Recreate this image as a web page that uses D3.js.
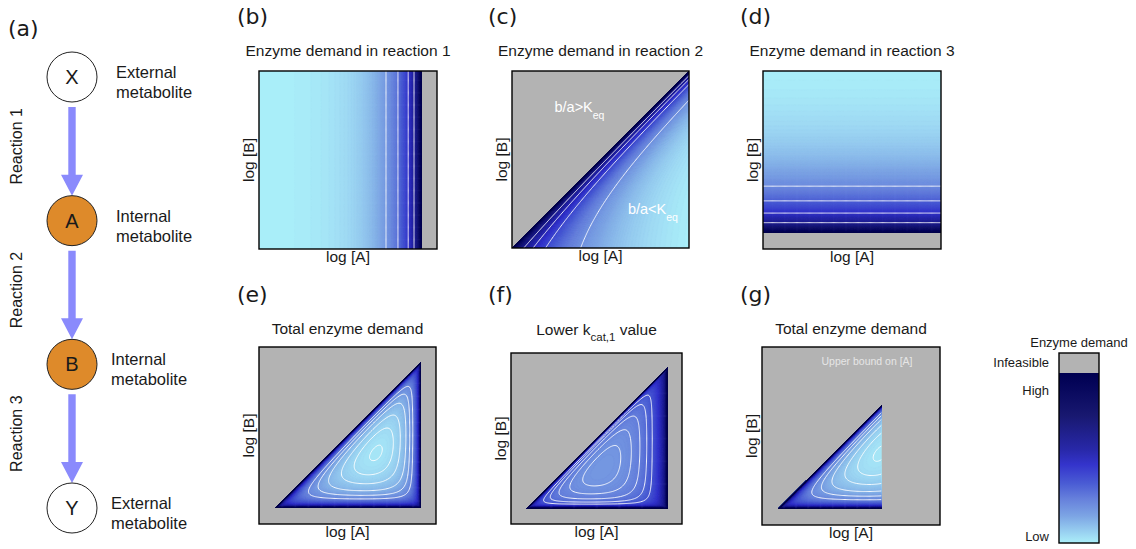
<!DOCTYPE html>
<html>
<head>
<meta charset="utf-8">
<script src="https://cdnjs.cloudflare.com/ajax/libs/d3/7.8.5/d3.min.js"></script>
<style>
  body { margin: 0; background: #fff; }
  text { font-family: "Liberation Sans", Arial, sans-serif; fill: #1a1a1a; }
</style>
</head>
<body>
<script>
// ---------- data ----------
var nodes = ['X', 'A', 'B', 'Y'];
var nodeKinds = ['External', 'Internal', 'Internal', 'External'];
var reactions = ['Reaction 1', 'Reaction 2', 'Reaction 3'];

// feasible limits on the normalised log concentrations
var aMax = 0.915;    // reaction 1 at equilibrium
var bMin = 0.092;    // reaction 3 at equilibrium
var aUpper = 0.67;   // extra bound on [A] in panel g

// toy kinetic model: thermodynamic slope, saturation K and L for reactions 1..3
var thermoSlope = [6, 6, 6];
var satK = [0, 1.83, 0.8];
var satL = [0, 3, 3];
var weightR1 = [1.6, 8];   // normal kcat1, lowered kcat1

// white contour levels (demand relative to panel minimum)
var levelsB = [1.42, 1.8, 2.7, 4.3];
var levelsC = [1.6, 2.75, 4.1, 7];
var levelsD = [1.55, 1.98, 2.86, 5.1];
var levelsE = [1.006, 1.06, 1.15, 1.3, 1.5, 1.8];
var levelsF = [1.04, 1.12, 1.25, 1.45, 1.75];

var panelIds = ['b', 'c', 'd', 'e', 'f', 'g'];
var panelTitles = ['Enzyme demand in reaction 1', 'Enzyme demand in reaction 2',
  'Enzyme demand in reaction 3', 'Total enzyme demand', 'Lower k|cat,1| value', 'Total enzyme demand'];

// colour map (t = 0 low demand, 1 high demand)
var colorStops = [0, 0.04, 0.16, 0.26, 0.35, 0.46, 0.55, 0.75, 0.945, 1];
var colorRange = ['#aaeff9', '#a0dcf4', '#7ca4e4', '#6680dc', '#4a5cd4', '#3434cc',
  '#2828a8', '#181870', '#040458', '#000050'];
var legendLabels = ['Infeasible', 'High', 'Low'];

// ---------- layout ----------
var W = 1136, H = 549;
var layout = {
  b: {x: 259, y: 71, s: 178, title: 56, lab: 24, labx: 237},
  c: {x: 512, y: 71, s: 177, title: 56, lab: 24, labx: 488},
  d: {x: 763, y: 71, s: 178, title: 56, lab: 24, labx: 740},
  e: {x: 259, y: 347, s: 177, title: 334, lab: 302, labx: 237},
  f: {x: 511, y: 353, s: 171, title: 335, lab: 302, labx: 488},
  g: {x: 762, y: 347, s: 178, title: 334, lab: 302, labx: 740}
};
var grey = '#b3b3b3';
var color = d3.scaleLinear().domain(colorStops).range(colorRange).clamp(true);

var svg = d3.select('body').append('svg')
    .attr('width', W)
    .attr('height', H);
var defs = svg.append('defs');

// ---------- model ----------
function drive(d, k) { return d > 0 ? 1 / (1 - Math.exp(-k * d)) : Infinity; }
function demand1(a) { return drive(aMax - a, thermoSlope[0]); }
function demand2(a, b) { return (1 + satK[1] * Math.exp(-satL[1] * a)) * drive(a - b, thermoSlope[1]); }
function demand3(b) { return (1 + satK[2] * Math.exp(-satL[2] * b)) * drive(b - bMin, thermoSlope[2]); }
function total(w1) {
  return function(a, b) { return w1 * demand1(a) + demand2(a, b) + demand3(b); };
}

var n = 170, lo = -0.02, hi = 1.02, step = (hi - lo) / n;

function drawPanel(id, field, levels, shade, gamma, clipPoly, refMin) {
  var L = layout[id];
  var xs = d3.scaleLinear().domain([0, 1]).range([L.x, L.x + L.s]);
  var ys = d3.scaleLinear().domain([0, 1]).range([L.y + L.s, L.y]);

  var vals = new Array(n * n);
  for (var j = 0; j < n; j++) {
    for (var i = 0; i < n; i++) {
      vals[i + j * n] = field(lo + (i + 0.5) * step, lo + (j + 0.5) * step);
    }
  }
  var dmin = refMin || d3.min(vals.filter(isFinite));
  var tvals = vals.map(function(v) {
    return isFinite(v) ? Math.max(0, 1 - Math.pow(shade * dmin / v, gamma)) : 1;
  });
  var rvals = vals.map(function(v) { return isFinite(v) ? v / dmin : 1e9; });

  var proj = d3.geoTransform({point: function(gx, gy) {
    this.stream.point(xs(lo + gx * step), ys(lo + gy * step));
  }});
  var path = d3.geoPath(proj);

  defs.append('clipPath').attr('id', 'clip-' + id)
    .append('path')
    .attr('d', d3.line().x(function(p) { return xs(p[0]); }).y(function(p) { return ys(p[1]); })(clipPoly) + 'Z');

  svg.append('rect')
    .attr('x', L.x).attr('y', L.y).attr('width', L.s).attr('height', L.s)
    .attr('fill', grey);

  var g = svg.append('g').attr('clip-path', 'url(#clip-' + id + ')');
  var bands = d3.range(0, 1, 0.006);
  g.selectAll('path.band')
      .data(d3.contours().size([n, n]).thresholds(bands)(tvals))
    .enter().append('path')
      .attr('class', 'band')
      .attr('d', path)
      .attr('fill', function(c) { return color(c.value + 0.003); })
      .attr('stroke', function(c) { return color(c.value + 0.003); })
      .attr('stroke-width', 0.4);
  g.selectAll('path.iso')
      .data(d3.contours().size([n, n]).thresholds(levels)(rvals))
    .enter().append('path')
      .attr('class', 'iso')
      .attr('d', path)
      .attr('fill', 'none')
      .attr('stroke', '#fff')
      .attr('stroke-opacity', 0.9)
      .attr('stroke-width', 1);

  svg.append('rect')
    .attr('x', L.x).attr('y', L.y).attr('width', L.s).attr('height', L.s)
    .attr('fill', 'none').attr('stroke', '#000').attr('stroke-width', 1.4);

  // title with optional |subscript|
  var k = panelIds.indexOf(id);
  var parts = panelTitles[k].split('|');
  var t = svg.append('text')
    .attr('x', L.x + L.s / 2).attr('y', L.title)
    .attr('text-anchor', 'middle').style('font-size', '15.5px');
  t.append('tspan').text(parts[0]);
  if (parts.length > 1) {
    t.append('tspan').attr('dy', 6).style('font-size', '11.5px').text(parts[1]);
    t.append('tspan').attr('dy', -6).text(parts[2]);
  }
  svg.append('text')
    .attr('x', L.labx).attr('y', L.lab)
    .style('font-family', '"DejaVu Sans", sans-serif').style('font-size', '22px')
    .text('(' + id + ')');
  svg.append('text')
    .attr('x', L.x + L.s / 2).attr('y', L.y + L.s + 13)
    .attr('text-anchor', 'middle').style('font-size', '15.5px')
    .text('log [A]');
  svg.append('text')
    .attr('transform', 'translate(' + (L.x - 5) + ',' + (L.y + L.s / 2) + ') rotate(-90)')
    .attr('text-anchor', 'middle').style('font-size', '15.5px')
    .text('log [B]');
  return {xs: xs, ys: ys, dmin: dmin};
}

drawPanel('b', function(a) { return demand1(a); }, levelsB, 1, 0.6,
  [[0, 0], [aMax, 0], [aMax, 1], [0, 1]]);
var pc = drawPanel('c', demand2, levelsC, 1, 0.5, [[0, 0], [1, 0], [1, 1]]);
drawPanel('d', function(a, b) { return demand3(b); }, levelsD, 1, 0.6,
  [[0, bMin], [1, bMin], [1, 1], [0, 1]]);
var pe = drawPanel('e', total(weightR1[0]), levelsE, 0.95, 0.42,
  [[bMin, bMin], [aMax, bMin], [aMax, aMax]]);
drawPanel('f', total(weightR1[1]), levelsF, 0.6, 0.42,
  [[bMin, bMin], [aMax, bMin], [aMax, aMax]]);
var pg = drawPanel('g', total(weightR1[0]), levelsE, 0.95, 0.42,
  [[bMin, bMin], [aUpper, bMin], [aUpper, aUpper]], pe.dmin);

// annotations inside panels
function keqLabel(x, y, sign) {
  var t = svg.append('text').attr('x', x).attr('y', y)
    .style('font-size', '14.5px').style('fill', '#fff');
  t.append('tspan').style('fill', '#fff').text('b/a' + sign + 'K');
  t.append('tspan').attr('dy', 7).style('font-size', '10.5px').style('fill', '#fff').text('eq');
}
keqLabel(pc.xs(0.24), pc.ys(0.77), '>');
keqLabel(pc.xs(0.655), pc.ys(0.19), '<');
svg.append('text')
  .attr('x', pg.xs(0.59)).attr('y', pg.ys(0.9))
  .attr('text-anchor', 'middle')
  .style('font-size', '10.5px').style('fill', '#e6e6e6')
  .text('Upper bound on [A]');

// ---------- panel (a): pathway ----------
svg.append('text').attr('x', 8).attr('y', 36)
  .style('font-family', '"DejaVu Sans", sans-serif').style('font-size', '22px')
  .text('(a)');
var ny = d3.scalePoint().domain(nodes).range([77, 508]);
var cx = 72, r = 25, headLen = 21, headHalf = 11, shaftHalf = 3.7;
reactions.forEach(function(name, i) {
  var y0 = ny(nodes[i]) + r + 5, y1 = ny(nodes[i + 1]) - r;
  var yh = y1 - headLen;
  var pts = [[cx - shaftHalf, y0], [cx + shaftHalf, y0], [cx + shaftHalf, yh], [cx + headHalf, yh],
    [cx, y1], [cx - headHalf, yh], [cx - shaftHalf, yh]];
  svg.append('path').attr('d', d3.line()(pts) + 'Z').attr('fill', '#8a8afc');
  svg.append('text')
    .attr('transform', 'translate(16,' + ((y0 + y1) / 2 - 5) + ') rotate(-90)')
    .attr('text-anchor', 'middle').attr('dominant-baseline', 'central')
    .style('font-size', '16px').text(name);
});
var node = svg.selectAll('g.node').data(nodes).enter().append('g')
  .attr('transform', function(d) { return 'translate(' + cx + ',' + ny(d) + ')'; });
node.append('circle').attr('r', r)
  .attr('fill', function(d, i) { return nodeKinds[i] === 'Internal' ? '#de8a2a' : '#fff'; })
  .attr('stroke', '#222').attr('stroke-width', 1);
node.append('text').attr('text-anchor', 'middle').attr('dy', 7)
  .style('font-size', '20px').text(function(d) { return d; });
var kindText = node.append('text')
  .attr('x', function(d, i) { return i < 2 ? 44 : 39; })
  .style('font-size', '16.5px');
kindText.append('tspan').attr('y', 1).text(function(d, i) { return nodeKinds[i]; });
kindText.append('tspan').attr('x', function(d, i) { return i < 2 ? 44 : 39; }).attr('y', 21)
  .text('metabolite');

// ---------- colour legend ----------
var lg = {x: 1059, y: 353, w: 40, h: 190, gray: 20};
var grad = defs.append('linearGradient').attr('id', 'cbar')
  .attr('x1', 0).attr('y1', 1).attr('x2', 0).attr('y2', 0);
grad.selectAll('stop').data(colorStops).enter().append('stop')
  .attr('offset', function(d) { return d; })
  .attr('stop-color', function(d) { return color(d); });
var ly = d3.scaleLinear().domain([0, 1]).range([lg.y + lg.h, lg.y + lg.gray]);
svg.append('rect').attr('x', lg.x).attr('y', lg.y).attr('width', lg.w).attr('height', lg.gray).attr('fill', grey);
svg.append('rect').attr('x', lg.x).attr('y', ly(1)).attr('width', lg.w).attr('height', ly(0) - ly(1))
  .attr('fill', 'url(#cbar)');
svg.append('rect').attr('x', lg.x).attr('y', lg.y).attr('width', lg.w).attr('height', lg.h)
  .attr('fill', 'none').attr('stroke', '#000').attr('stroke-width', 1.4);
svg.append('text').attr('x', lg.x + lg.w / 2).attr('y', lg.y - 6).attr('text-anchor', 'middle')
  .style('font-size', '13px').text('Enzyme demand');
var legendY = [lg.y + lg.gray / 2 + 4, ly(0.9) + 5, ly(0.04) + 5];
legendLabels.forEach(function(s, i) {
  svg.append('text').attr('x', lg.x - 10).attr('y', legendY[i]).attr('text-anchor', 'end')
    .style('font-size', '13px').text(s);
});
</script>
</body>
</html>
